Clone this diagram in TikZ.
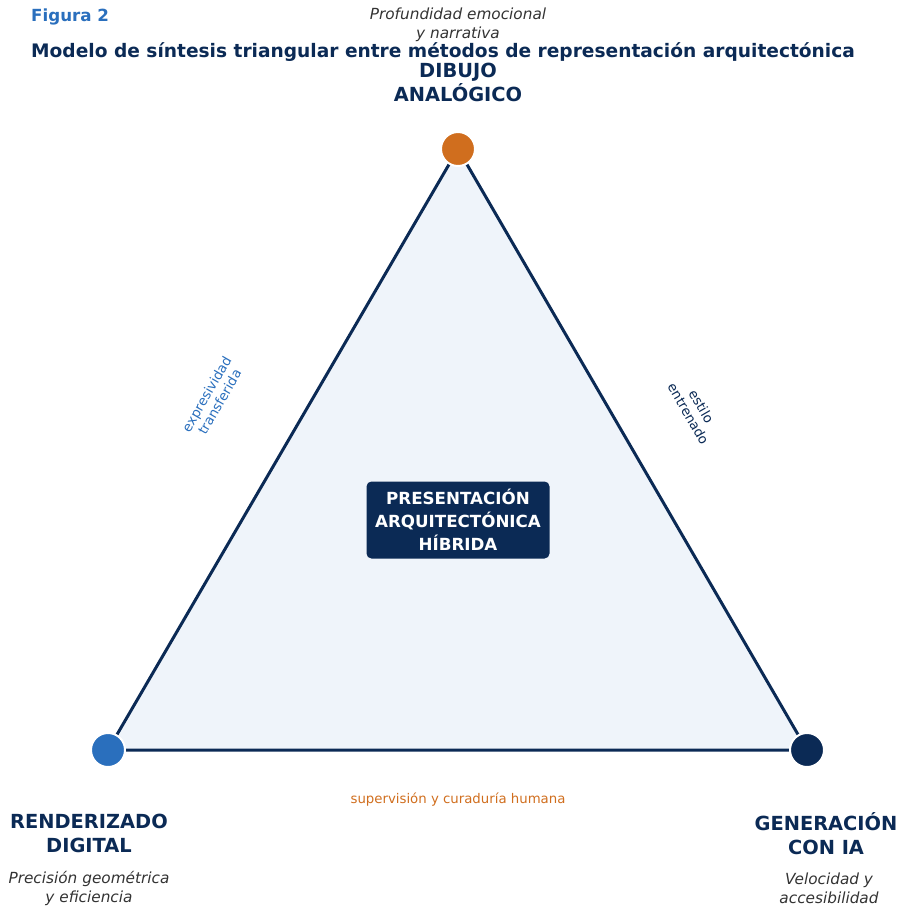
\documentclass[tikz,border=0pt]{standalone}
\usepackage{fontspec}
\setmainfont{DejaVu Sans}
\usetikzlibrary{positioning}
\definecolor{navy}{HTML}{0B2A55}
\definecolor{vblue}{HTML}{2A6FBD}
\definecolor{vorange}{HTML}{D06E1E}
\definecolor{trifill}{HTML}{EFF4FA}
\definecolor{remarkgray}{HTML}{333333}

\begin{document}
\begin{tikzpicture}[x=1pt,y=-1pt,
	edge/.style={draw=navy, line width=3pt, line join=round},
	vertex/.style={circle, minimum size=34pt, inner sep=0, draw=white, line width=2pt},
	corner/.style={font=\bfseries\fontsize{19.4}{24}\selectfont, text=navy, align=center, inner sep=0},
	remark/.style={font=\itshape\fontsize{15.3}{19}\selectfont, text=remarkgray, align=center, inner sep=0},
	sidelabel/.style={font=\fontsize{13.3}{15}\selectfont, align=center, inner sep=0}]
	\useasboundingbox (0,0) rectangle (905,915);
	
	% heading
	\node[anchor=west, inner sep=0, text=vblue, font=\bfseries\fontsize{16.7}{20}\selectfont] (fig) at (31,17) {Figura 2};
	\node[anchor=west, inner sep=0, text=navy, font=\bfseries\fontsize{18.6}{22}\selectfont] (title) at (31,52) {Modelo de síntesis triangular entre métodos de representación arquitectónica};
	
	% triangle
	\coordinate (top) at (458,149);
	\coordinate (left) at (108,750);
	\coordinate (right) at (807,750);
	\filldraw[edge, fill=trifill] (top) -- (right) -- (left) -- cycle;
	
	\node[vertex, fill=vorange] (dibujo) at (top) {};
	\node[vertex, fill=vblue] (render) at (left) {};
	\node[vertex, fill=navy] (ia) at (right) {};
	
	% vertex labels
	\node[remark] (dibujonote) at (458,24.5) {Profundidad emocional\\y narrativa};
	\node[corner] (dibujoname) at (458,82) {DIBUJO\\ANALÓGICO};
	\node[corner] (rendername) at (89,833.5) {RENDERIZADO\\DIGITAL};
	\node[remark] (rendernote) at (89,888) {Precisión geométrica\\y eficiencia};
	\node[corner] (ianame) at (826,833.5) {GENERACIÓN\\CON IA};
	\node[remark] (ianote) at (829,888) {Velocidad y\\accesibilidad};
	
	% edge labels
	\node[sidelabel, text=vblue, rotate=60] (lefttext) at (213,398) {expresividad\\transferida};
	\node[sidelabel, text=navy, rotate=-60] (righttext) at (695,410) {estilo\\entrenado};
	\node[sidelabel, text=vorange] (bottomtext) at (458,800) {supervisión y curaduría humana};
	
	% centre
	\node[fill=navy, rounded corners=5pt, minimum width=183pt, minimum height=77pt, inner sep=0, align=center, text=white, font=\bfseries\fontsize{16.7}{23}\selectfont] (hibrida) at (458,520) {PRESENTACIÓN\\ARQUITECTÓNICA\\HÍBRIDA};
\end{tikzpicture}
\end{document}
